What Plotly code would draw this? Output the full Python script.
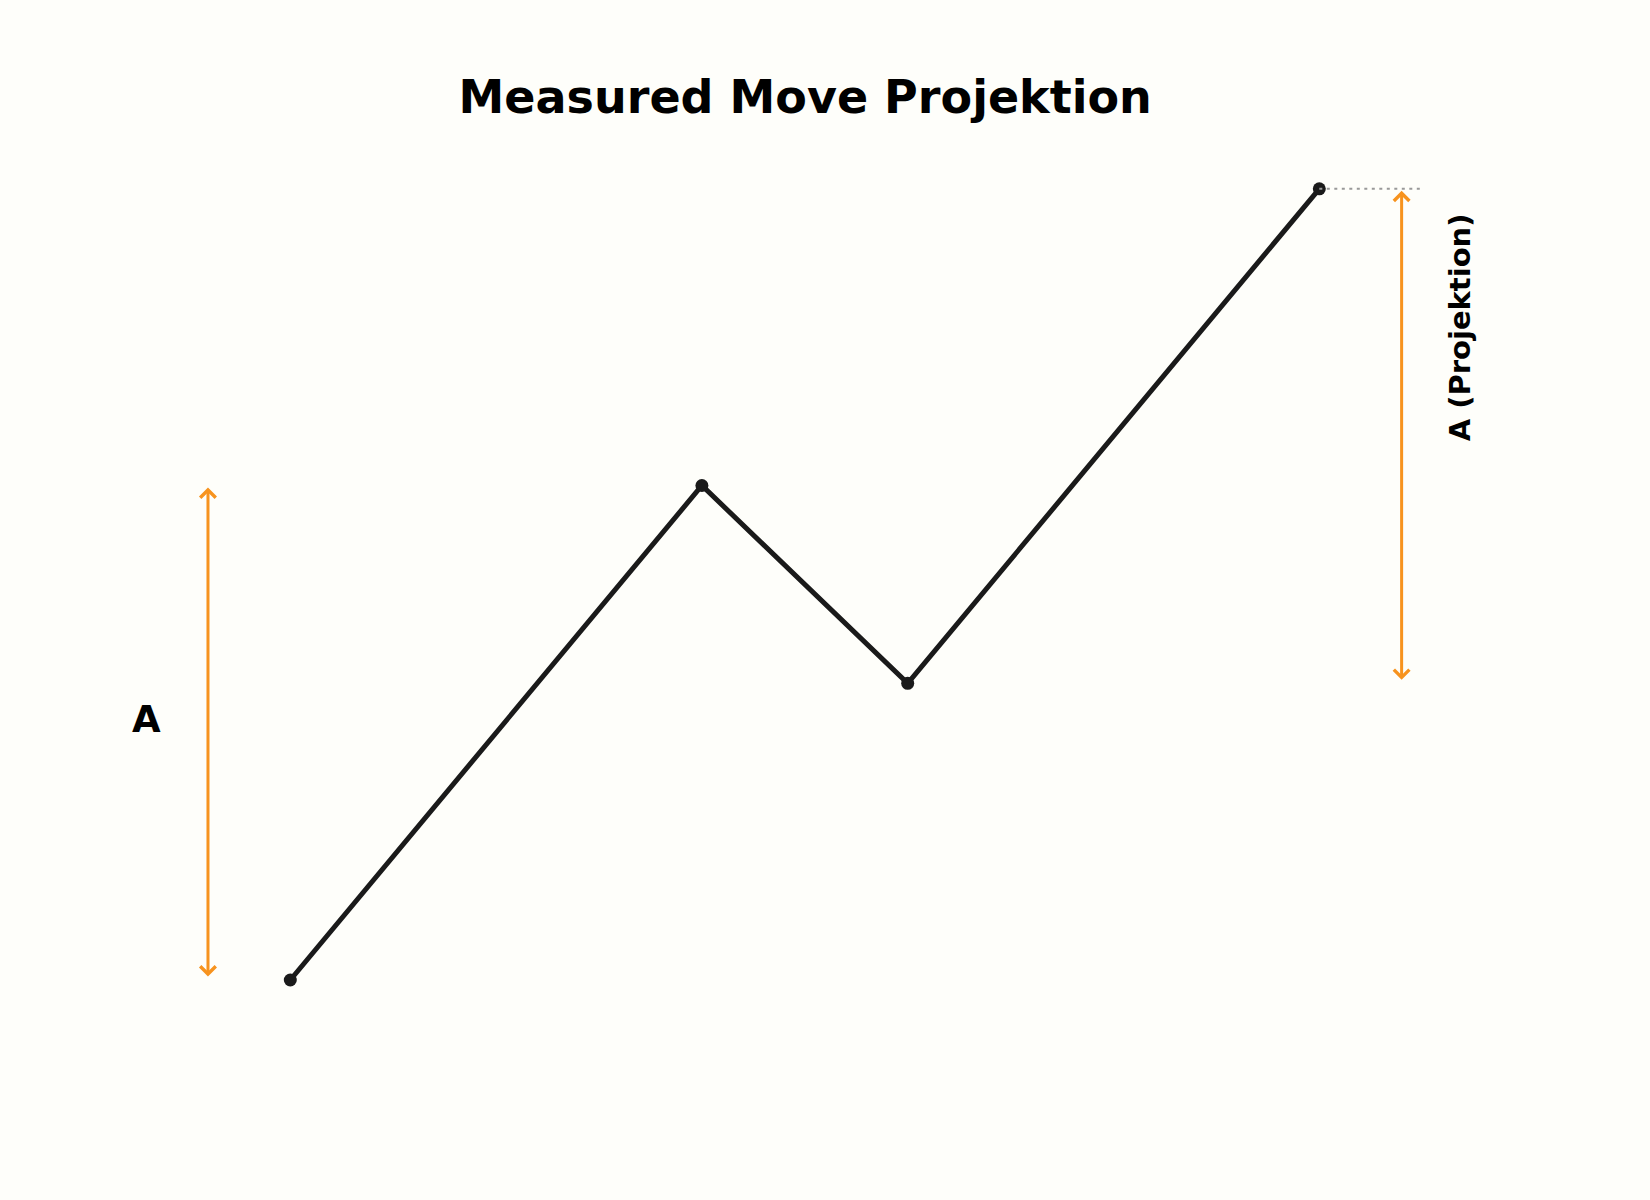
import plotly.graph_objects as go

# swing points of the measured move (x = bar index, y = price)
swing_x = [0, 2, 3, 5]
swing_y = [0, 10, 6, 16]

# annotation helpers
leg_a = (swing_y[0], swing_y[1])          # first leg A
leg_proj = (swing_y[2], swing_y[3])       # projected A from the pullback low
arrow_a_x = -0.4
arrow_proj_x = 5.4
guide_x = [5, 5.5]

ORANGE = "#F7931E"
BLACK = "#1A1A1A"
BG = "#FEFEFA"

fig = go.Figure()

fig.add_scatter(x=swing_x, y=swing_y, mode="lines+markers",
                line=dict(color=BLACK, width=5),
                marker=dict(color=BLACK, size=13),
                hoverinfo="skip", showlegend=False)

# dotted guide at the target level
fig.add_scatter(x=guide_x, y=[swing_y[3]] * 2, mode="lines",
                line=dict(color="#999999", width=2, dash="3px,4.5px"),
                hoverinfo="skip", showlegend=False)

def double_arrow(x, y0, y1):
    fig.add_annotation(x=x, y=y1, ax=x, ay=y0, xref="x", yref="y", axref="x", ayref="y",
                       showarrow=True, arrowside="end+start", arrowhead=4, startarrowhead=4,
                       arrowsize=1.0, startarrowsize=1.0, arrowwidth=3, arrowcolor=ORANGE,
                       standoff=2, startstandoff=2, text="")

double_arrow(arrow_a_x, *leg_a)
double_arrow(arrow_proj_x, *leg_proj)

fig.add_annotation(x=-0.70, y=5.26, text="<b>A</b>", showarrow=False,
                   font=dict(size=37, color="black", family="DejaVu Sans"),
                   xanchor="center", yanchor="middle")
fig.add_annotation(x=5.684, y=13.2, text="<b>A (Projektion)</b>", showarrow=False,
                   textangle=-90, font=dict(size=29, color="black", family="DejaVu Sans"),
                   xanchor="center", yanchor="middle")

fig.update_layout(
    width=1650, height=1200,
    paper_bgcolor=BG, plot_bgcolor=BG,
    margin=dict(l=0, r=0, t=0, b=0),
    title=dict(text="<b>Measured Move Projektion</b>", x=0.488, xanchor="center",
               y=0.919, yanchor="middle", yref="container",
               font=dict(size=46, color="black", family="DejaVu Sans")),
    font=dict(family="DejaVu Sans"),
)
fig.update_xaxes(visible=False, range=[-1.4106, 6.6069])
fig.update_yaxes(visible=False, range=[-4.449, 19.818])

# drop the default page margin so the figure fills the window
fig.write_html("out.html", config={"displayModeBar": False},
               post_script=f"document.body.style.margin='0';document.body.style.background='{BG}';")
